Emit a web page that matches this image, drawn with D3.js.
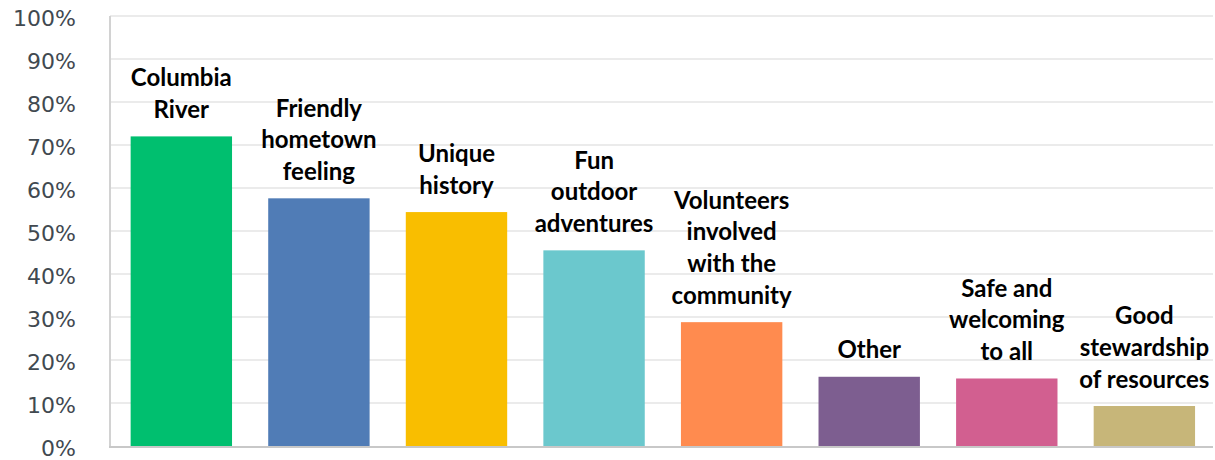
<!DOCTYPE html>
<html>
<head>
<meta charset="utf-8">
<script src="https://cdn.jsdelivr.net/npm/d3@7"></script>
<style>
  html, body { margin: 0; padding: 0; background: #ffffff; }
  svg { display: block; }
</style>
</head>
<body>
<svg id="chart" width="1215" height="460"></svg>
<script>
// ---- data ----
const categories = [
  "Columbia River",
  "Friendly hometown feeling",
  "Unique history",
  "Fun outdoor adventures",
  "Volunteers involved with the community",
  "Other",
  "Safe and welcoming to all",
  "Good stewardship of resources"
];
const labelLines = [
  ["Columbia", "River"],
  ["Friendly", "hometown", "feeling"],
  ["Unique", "history"],
  ["Fun", "outdoor", "adventures"],
  ["Volunteers", "involved", "with the", "community"],
  ["Other"],
  ["Safe and", "welcoming", "to all"],
  ["Good", "stewardship", "of resources"]
];
const values = [72, 57.6, 54.4, 45.5, 28.8, 16.1, 15.7, 9.3];
const barColors = ["#00BF6F", "#507CB6", "#F9BE00", "#6BC8CD", "#FF8B4F", "#7D5E90", "#D25F90", "#C7B679"];
const yTicks = [0, 10, 20, 30, 40, 50, 60, 70, 80, 90, 100];

// ---- layout ----
const svg = d3.select("#chart");
const plotLeft = 110, plotRight = 1213, plotTop = 16, plotBottom = 446;

const x = d3.scaleBand()
  .domain(categories)
  .range([plotLeft, 1215.7])
  .paddingInner(0.263)
  .paddingOuter(0.15);

const y = d3.scaleLinear().domain([0, 100]).range([plotBottom, plotTop]);

// gridlines
svg.append("g").selectAll("line")
  .data(yTicks.filter(d => d > 0))
  .join("line")
  .attr("x1", plotLeft).attr("x2", plotRight)
  .attr("y1", d => y(d)).attr("y2", d => y(d))
  .attr("stroke", "#ebebeb").attr("stroke-width", 2);

// y axis labels
const yAxis = d3.axisLeft(y).tickValues(yTicks).tickFormat(d => d + "%").tickSize(0).tickPadding(0);
const gy = svg.append("g").attr("transform", "translate(76,2)").call(yAxis);
gy.select(".domain").remove();
gy.selectAll("text")
  .attr("font-family", "'DejaVu Sans', sans-serif")
  .attr("font-size", 22)
  .attr("fill", "#414950");

// bars
svg.append("g").selectAll("rect")
  .data(values)
  .join("rect")
  .attr("x", (d, i) => x(categories[i]))
  .attr("width", x.bandwidth())
  .attr("y", d => y(d))
  .attr("height", d => y(0) - y(d))
  .attr("fill", (d, i) => barColors[i]);

// axis lines
svg.append("line")
  .attr("x1", plotLeft).attr("x2", plotLeft)
  .attr("y1", plotTop).attr("y2", plotBottom + 1)
  .attr("stroke", "#d2d2d2").attr("stroke-width", 2);
svg.append("line")
  .attr("x1", plotLeft - 1).attr("x2", plotRight)
  .attr("y1", plotBottom + 1).attr("y2", plotBottom + 1)
  .attr("stroke", "#c8c8c8").attr("stroke-width", 2);

// category labels above bars
const lineH = 31.6, gap = 18.5;
const lg = svg.append("g")
  .attr("font-family", "Lato, sans-serif")
  .attr("font-weight", "bold")
  .attr("font-size", 24)
  .attr("fill", "#000")
  .attr("text-anchor", "middle");
labelLines.forEach((lines, i) => {
  const cx = x(categories[i]) + x.bandwidth() / 2;
  const lastBase = y(values[i]) - gap;
  const t = lg.append("text");
  lines.forEach((ln, j) => {
    t.append("tspan")
      .attr("x", cx)
      .attr("y", lastBase - (lines.length - 1 - j) * lineH)
      .text(ln);
  });
});
</script>
</body>
</html>
